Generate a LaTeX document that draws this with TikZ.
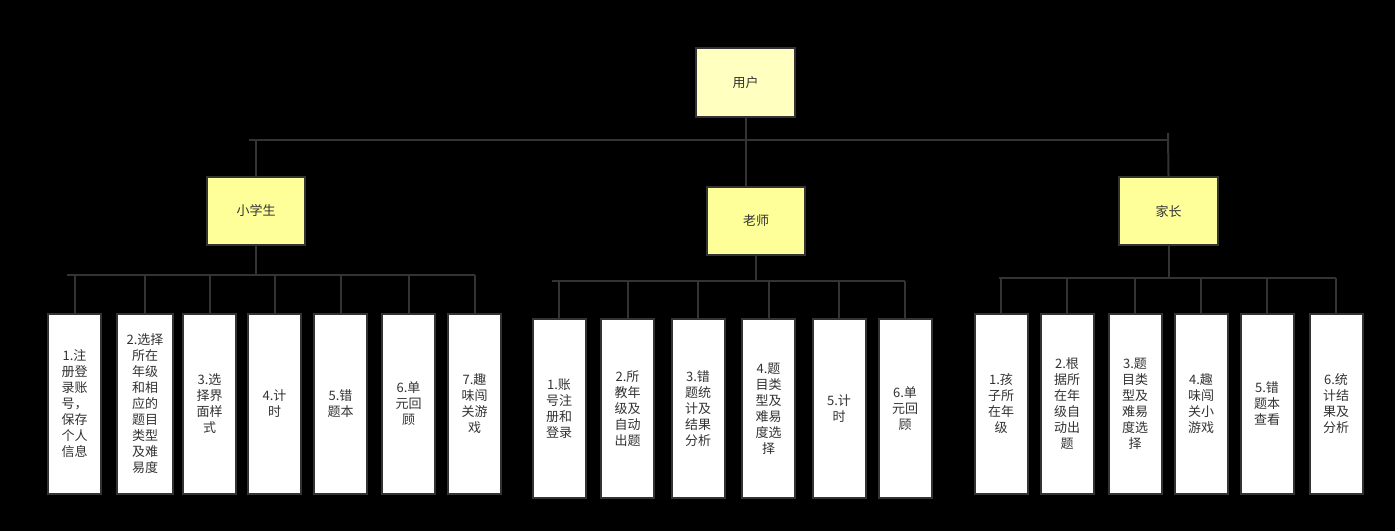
\documentclass[tikz,border=0pt]{standalone}
\usepackage{fontspec}
\newfontfamily\cjk{Noto Sans CJK SC}
\usetikzlibrary{positioning,calc}
\definecolor{ink}{RGB}{51,51,51}
\definecolor{rootfill}{RGB}{255,255,192}
\definecolor{rolefill}{RGB}{255,255,153}
\tikzset{
  rootbox/.style={draw=ink,line width=2pt,fill=rootfill,minimum width=99pt,minimum height=69pt,
    inner sep=0pt,font=\cjk\fontsize{13}{16}\selectfont,text=ink},
  rolebox/.style={rootbox,fill=rolefill,minimum width=98pt,minimum height=68pt},
  leaf/.style={draw=ink,line width=2pt,fill=white,minimum width=53pt,minimum height=180pt,
    inner sep=0pt,align=center,font=\cjk\fontsize{13}{16}\selectfont,text=ink},
  link/.style={draw=ink,line width=2pt},
}

\begin{document}
\begin{tikzpicture}[x=1pt,y=-1pt]
\fill[black] (0,0) rectangle (1395,531);
\useasboundingbox (0,0) rectangle (1395,531);
% user and the three roles
\node[rootbox] (user) at (745.5,82.5) {用户};
\node[rolebox] (stu) at (256,211) {小学生};
\node[rolebox] (tea) at (756,221) {老师};
\node[rolebox,minimum width=99pt] (par) at (1168.5,211) {家长};
\coordinate (topL) at (249,140);
\coordinate (topR) at (1168,140);
\coordinate (parT) at (1168,133);
\draw[link] (user.south) -- (user.south |- tea.north);
\draw[link] (topL) -- (topR);
\draw[link] (topL -| stu.north) -- (stu.north);
\draw[link] (parT) -- (par.north);

% student functions
\node[leaf] (s1) at (74.5,404) {1.注\\册登\\录账\\号，\\保存\\个人\\信息};
\node[leaf,minimum width=56pt] (s2) at (145,404) {2.选择\\所在\\年级\\和相\\应的\\题目\\类型\\及难\\易度};
\node[leaf] (s3) at (209.5,404) {3.选\\择界\\面样\\式};
\node[leaf] (s4) at (274.5,404) {4.计\\时};
\node[leaf] (s5) at (340.5,404) {5.错\\题本};
\node[leaf] (s6) at (408.5,404) {6.单\\元回\\顾};
\node[leaf] (s7) at (474.5,404) {7.趣\\味闯\\关游\\戏};
\coordinate (sL) at (67,275);
\coordinate (sR) at (475,275);
\draw[link] (stu.south) -- (stu.south |- sL);
\draw[link] (sL) -- (sR);
\foreach \i in {1,...,7}
  \draw[link] (s\i.north) -- (s\i.north |- sL);

% teacher functions
\node[leaf,minimum height=179pt] (t1) at (559,408.5) {1.账\\号注\\册和\\登录};
\node[leaf,minimum height=179pt] (t2) at (627.5,408.5) {2.所\\教年\\级及\\自动\\出题};
\node[leaf,minimum height=179pt] (t3) at (698,408.5) {3.错\\题统\\计及\\结果\\分析};
\node[leaf,minimum height=179pt] (t4) at (768.5,408.5) {4.题\\目类\\型及\\难易\\度选\\择};
\node[leaf,minimum height=179pt] (t5) at (839,408.5) {5.计\\时};
\node[leaf,minimum height=179pt] (t6) at (905,408.5) {6.单\\元回\\顾};
\coordinate (tL) at (552,281);
\coordinate (tR) at (905,281);
\draw[link] (tea.south) -- (tea.south |- tL);
\draw[link] (tL) -- (tR);
\foreach \i in {1,...,6}
  \draw[link] (t\i.north) -- (t\i.north |- tL);

% parent functions
\node[leaf] (p1) at (1001,404) {1.孩\\子所\\在年\\级};
\node[leaf] (p2) at (1067,404) {2.根\\据所\\在年\\级自\\动出\\题};
\node[leaf] (p3) at (1135,404) {3.题\\目类\\型及\\难易\\度选\\择};
\node[leaf] (p4) at (1201,404) {4.趣\\味闯\\关小\\游戏};
\node[leaf] (p5) at (1267,404) {5.错\\题本\\查看};
\node[leaf] (p6) at (1336,404) {6.统\\计结\\果及\\分析};
\coordinate (pL) at (999,278);
\coordinate (pR) at (1336,278);
\draw[link] (par.south) -- (par.south |- pL);
\draw[link] (pL) -- (pR);
\foreach \i in {1,...,6}
  \draw[link] (p\i.north) -- (p\i.north |- pL);
\end{tikzpicture}
\end{document}
